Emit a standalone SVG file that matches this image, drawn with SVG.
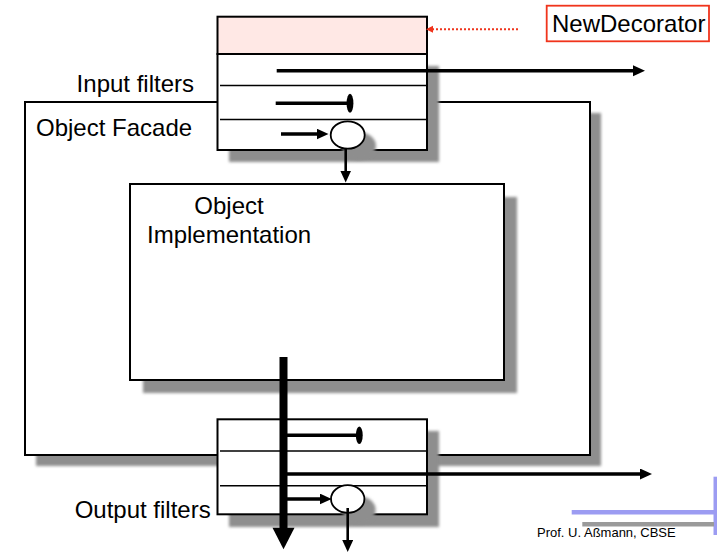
<svg xmlns="http://www.w3.org/2000/svg" width="717" height="553" viewBox="0 0 717 553">
  <style>
    .box { fill: #ffffff; stroke: #000000; stroke-width: 2; }
    .shadow { fill: #8e8e8e; filter: url(#soft); }
    .row { stroke: #000000; stroke-width: 1.4; fill: none; }
    .label { font-family: "Liberation Sans", Arial, sans-serif; font-size: 24px; fill: #000000; }
    .pipe { stroke: #000000; stroke-width: 3.5; fill: none; }
    .thin { stroke: #000000; stroke-width: 2.6; fill: none; }
    .port { fill: #ffffff; stroke: #000000; stroke-width: 1.8; }
    .stop { fill: #000000; stroke: none; }
  </style>
  <defs>
    <filter id="soft" x="-10%" y="-10%" width="120%" height="120%">
      <feGaussianBlur stdDeviation="1.6"/>
    </filter>
    <marker id="head" markerUnits="userSpaceOnUse" markerWidth="14" markerHeight="12" refX="6" refY="5.5" orient="auto">
      <path d="M0,0 L12,5.5 L0,11 z" fill="#000000"/>
    </marker>
    <marker id="headRed" markerUnits="userSpaceOnUse" markerWidth="9" markerHeight="9" refX="3" refY="3.5" orient="auto">
      <path d="M0,0 L7,3.5 L0,7 z" fill="#f0341c"/>
    </marker>
  </defs>

  <rect width="717" height="553" fill="#ffffff"/>

  <!-- outer facade frame -->
  <g id="object-facade">
    <rect class="shadow" x="36" y="113" width="565" height="353"/>
    <rect class="box" x="25" y="102" width="565" height="353"/>
    <text class="label" x="36" y="136">Object Facade</text>
  </g>

  <!-- inner implementation -->
  <g id="object-implementation">
    <rect class="shadow" x="143" y="197" width="374" height="196"/>
    <rect class="box" x="130" y="184" width="374" height="196"/>
    <text class="label" x="229" y="214" text-anchor="middle">Object</text>
    <text class="label" x="147" y="243">Implementation</text>
  </g>

  <!-- input filter stack with decorator header -->
  <g id="input-filters">
    <rect class="shadow" x="229" y="66" width="210" height="96"/>
    <rect class="box" x="217.5" y="54" width="209.5" height="96"/>
    <line class="row" x1="220" y1="85.5" x2="426.5" y2="85.5"/>
    <line class="row" x1="220" y1="119.5" x2="426.5" y2="119.5"/>
    <ellipse class="shadow" cx="359" cy="146" rx="17" ry="13.7"/>
    <ellipse class="port" cx="347.7" cy="135" rx="17" ry="13.7"/>
    <text class="label" x="194" y="92" text-anchor="end">Input filters</text>
  </g>

  <g id="new-decorator">
    <rect x="217.5" y="16.7" width="209.5" height="37.3" fill="#ffe8e5" stroke="#000000" stroke-width="2"/>
    <rect x="546.7" y="5.7" width="162.3" height="35.6" fill="#ffffff" stroke="#f0341c" stroke-width="1.8"/>
    <text class="label" x="552" y="32">NewDecorator</text>
  </g>

  <!-- output filter stack -->
  <g id="output-filters">
    <rect class="shadow" x="229" y="431" width="210" height="96"/>
    <rect class="box" x="217.5" y="419.3" width="209.5" height="95"/>
    <line class="row" x1="220" y1="451" x2="426.5" y2="451"/>
    <line class="row" x1="220" y1="485.7" x2="426.5" y2="485.7"/>
    <ellipse class="shadow" cx="359" cy="510" rx="16.7" ry="13.8"/>
    <ellipse class="port" cx="347.7" cy="499" rx="16.7" ry="13.8"/>
    <text class="label" x="210.7" y="518" text-anchor="end">Output filters</text>
  </g>

  <!-- message flows -->
  <g id="connectors">
    <line stroke="#f0341c" stroke-width="2" stroke-dasharray="2,2" x1="518" y1="29.3" x2="430" y2="29.3" marker-end="url(#headRed)"/>

    <line class="pipe" x1="276.7" y1="70.7" x2="639" y2="70.7" marker-end="url(#head)"/>
    <line class="pipe" x1="275.7" y1="103.3" x2="348" y2="103.3"/>
    <ellipse class="stop" cx="350" cy="103.3" rx="3.4" ry="9.5"/>
    <line class="pipe" x1="281" y1="134" x2="322.5" y2="134" marker-end="url(#head)"/>
    <line class="thin" x1="345.7" y1="148.7" x2="345.7" y2="176.5" marker-end="url(#head)"/>

    <line stroke="#000000" stroke-width="8" x1="283.5" y1="357" x2="283.5" y2="529"/>
    <polygon points="272.5,527.7 294.5,527.7 283.5,549.3" fill="#000000"/>
    <line class="pipe" x1="283.5" y1="435.3" x2="357" y2="435.3"/>
    <ellipse class="stop" cx="359.3" cy="435.3" rx="3.4" ry="8.8"/>
    <line class="pipe" x1="283.5" y1="474" x2="646" y2="474" marker-end="url(#head)"/>
    <line class="pipe" x1="283.5" y1="499" x2="325.7" y2="499" marker-end="url(#head)"/>
    <line class="thin" x1="347.7" y1="508" x2="347.7" y2="546" marker-end="url(#head)"/>
  </g>

  <!-- page footer -->
  <g id="footer">
    <line stroke="#9c9cf2" stroke-width="4" x1="715.5" y1="476.7" x2="715.5" y2="535"/>
    <line stroke="#9c9cf2" stroke-width="4.5" x1="571.7" y1="512.3" x2="716" y2="512.3"/>
    <line stroke="#9a9a9a" stroke-width="4.5" x1="582.3" y1="524.3" x2="714" y2="524.3"/>
    <text x="537" y="537" font-family="Liberation Sans, Arial, sans-serif" font-size="13" fill="#000000">Prof. U. Aßmann, CBSE</text>
  </g>
</svg>
